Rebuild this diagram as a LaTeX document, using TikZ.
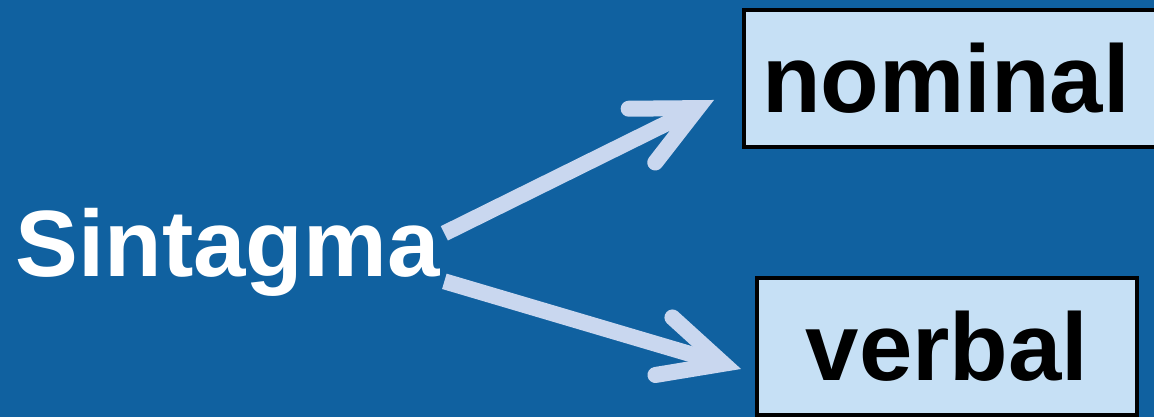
\documentclass[tikz,border=0pt]{standalone}
\usepackage{fontspec}
\setmainfont{Liberation Sans}
\usetikzlibrary{arrows.meta}
\definecolor{fondo}{RGB}{16,97,160}
\definecolor{flecha}{RGB}{201,215,239}
\definecolor{caja}{RGB}{198,224,245}
\newcommand{\letra}{\fontsize{26.8}{32}\selectfont\bfseries}
\newcommand{\letracaja}{\fontsize{27.3}{32}\selectfont\bfseries}

\begin{document}
\begin{tikzpicture}[caja/.style={draw=black, line width=0.04cm, fill=caja, minimum height=1.37cm, inner sep=0pt, font=\letracaja},
					rama/.style={draw=flecha, line width=0.16cm, -{Straight Barb[length=0.62cm, width=0.6cm, line cap=round, line join=miter]}}]
					\fill[fondo] (0,0) rectangle (11.54,4.17);
					\useasboundingbox (0,0) rectangle (11.54,4.17);
					\node[anchor=base west, inner sep=0pt, text=white, font=\letra] (sint) at (0.15,1.40) {Sintagma};
					\node[caja, anchor=west, text width=4.1cm, align=left, inner xsep=0.18cm] (nom) at (7.42,3.385) {nominal};
					\node[caja, minimum width=3.80cm] (verb) at (9.47,0.705) {verbal};
					\draw[rama] ([xshift=0.04cm, yshift=0.195cm]sint.east) -- ([xshift=-0.28cm, yshift=-0.215cm]nom.west);
					\draw[rama] ([xshift=0.04cm, yshift=-0.285cm]sint.east) -- ([xshift=-0.14cm, yshift=-0.225cm]verb.west);
				\end{tikzpicture}
\end{document}
